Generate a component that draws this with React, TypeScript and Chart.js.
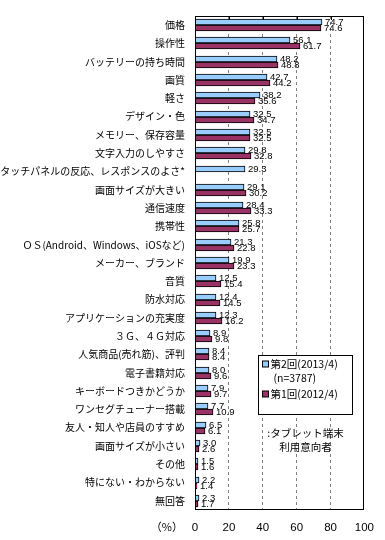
import React, { useEffect, useRef } from "react";
import { Chart, registerables } from "chart.js";

Chart.register(...registerables);

const categories = [
  "価格",
  "操作性",
  "バッテリーの持ち時間",
  "画質",
  "軽さ",
  "デザイン・色",
  "メモリー、保存容量",
  "文字入力のしやすさ",
  "タッチパネルの反応、レスポンスのよさ*",
  "画面サイズが大きい",
  "通信速度",
  "携帯性",
  "ＯＳ(Android、Windows、iOSなど)",
  "メーカー、ブランド",
  "音質",
  "防水対応",
  "アプリケーションの充実度",
  "３Ｇ、４Ｇ対応",
  "人気商品(売れ筋)、評判",
  "電子書籍対応",
  "キーボードつきかどうか",
  "ワンセグチューナー搭載",
  "友人・知人や店員のすすめ",
  "画面サイズが小さい",
  "その他",
  "特にない・わからない",
  "無回答",
];

const series2013 = [
  74.7, 56.1, 48.2, 42.7, 38.2, 32.5, 32.5, 29.8, 29.3, 29.1, 28.4, 25.8, 21.3, 19.9,
  12.5, 12.4, 12.3, 8.9, 8.4, 8.0, 7.9, 7.7, 6.5, 3.0, 1.5, 2.2, 2.3,
];

const series2012: (number | null)[] = [
  74.6, 61.7, 48.8, 44.2, 35.6, 34.7, 32.5, 32.8, null, 30.2, 33.3, 25.7, 22.8, 23.3,
  15.4, 14.5, 16.2, 9.8, 8.4, 9.6, 9.7, 10.9, 6.1, 2.6, 1.6, 1.4, 1.7,
];

const xTicks = [0, 20, 40, 60, 80, 100];
const seriesNames = ["第2回(2013/4)", "第1回(2012/4)"];
const sampleNote = "(n=3787)";
const noteLines = [":タブレット端末", "利用意向者"];
const unitLabel = "（%）";

const BLUE = "#99CCFF";
const MAROON = "#993366";
const CJK = '"Noto Sans CJK JP", "Noto Sans", sans-serif';
const NUM = '"Liberation Sans Narrow", "Liberation Sans", Arial, sans-serif';
const SANS = '"Liberation Sans", Arial, sans-serif';

const overlayPlugin = {
  id: "overlay",
  afterDatasetsUpdate(chart: any) {
    // snap bars to whole pixels for crisp edges
    chart.data.datasets.forEach((_ds: any, di: number) => {
      const meta = chart.getDatasetMeta(di);
      meta.data.forEach((el: any) => {
        el.y = Math.round(el.y);
        el.x = Math.round(el.x);
        el.base = Math.round(el.base);
      });
    });
  },
  afterDatasetsDraw(chart: any) {
    const ctx = chart.ctx;
    ctx.save();
    ctx.font = `9.5px ${NUM}`;
    ctx.fillStyle = "#000";
    ctx.textAlign = "left";
    ctx.textBaseline = "middle";
    chart.data.datasets.forEach((ds: any, di: number) => {
      const meta = chart.getDatasetMeta(di);
      meta.data.forEach((el: any, i: number) => {
        const v = ds.data[i];
        if (v === null || v === undefined) return;
        ctx.fillText(Number(v).toFixed(1), el.x + 3, el.y);
      });
    });
    ctx.restore();
  },
  afterDraw(chart: any) {
    const ctx = chart.ctx;
    const a = chart.chartArea;
    const xs = chart.scales.x;
    ctx.save();
    // frame
    ctx.strokeStyle = "#000";
    ctx.lineWidth = 1;
    ctx.setLineDash([]);
    ctx.strokeRect(Math.round(a.left) + 0.5, Math.round(a.top) + 0.5, Math.round(a.right - a.left) - 1, Math.round(a.bottom - a.top) - 1);
    // top tick marks
    xTicks.slice(1, -1).forEach((t) => {
      const px = Math.round(xs.getPixelForValue(t)) + 0.5;
      ctx.beginPath();
      ctx.moveTo(px, a.top);
      ctx.lineTo(px, a.top + 4);
      ctx.stroke();
    });
    // unit label
    ctx.font = `11px ${CJK}`;
    ctx.fillStyle = "#000";
    ctx.textAlign = "right";
    ctx.textBaseline = "middle";
    ctx.fillText(unitLabel, a.left - 12, a.bottom + 17);

    // legend box
    const bx = Math.round(xs.getPixelForValue(37.3)) + 0.5;
    const bx2 = Math.round(xs.getPixelForValue(92.6)) + 0.5;
    const by = 355.5;
    const by2 = 414.5;
    ctx.fillStyle = "#fff";
    ctx.fillRect(bx, by, bx2 - bx, by2 - by);
    ctx.strokeStyle = "#000";
    ctx.strokeRect(bx, by, bx2 - bx, by2 - by);

    ctx.font = `10.5px ${CJK}`;
    ctx.textAlign = "left";
    ctx.textBaseline = "middle";
    const rows = [
      { y: 364, color: BLUE, text: seriesNames[0], sq: true },
      { y: 378, color: null, text: sampleNote, sq: false },
      { y: 394, color: MAROON, text: seriesNames[1], sq: true },
    ];
    rows.forEach((r) => {
      if (r.sq && r.color) {
        ctx.fillStyle = r.color;
        ctx.fillRect(bx + 4, r.y - 3, 6, 6);
        ctx.strokeStyle = "#000";
        ctx.strokeRect(bx + 4, r.y - 3, 6, 6);
      }
      ctx.fillStyle = "#000";
      ctx.fillText(r.text, r.sq ? bx + 12 : bx + 15, r.y);
    });

    // note lines
    ctx.font = `10.5px ${CJK}`;
    ctx.textAlign = "center";
    ctx.fillStyle = "#000";
    const cx = (bx + bx2) / 2;
    ctx.fillText(noteLines[0], cx, 433);
    ctx.fillText(noteLines[1], cx, 447);
    ctx.restore();
  },
};

export default function App() {
  const ref = useRef<HTMLCanvasElement | null>(null);

  useEffect(() => {
    document.body.style.margin = "0";
    if (!ref.current) return;
    const chart = new Chart(ref.current, {
      type: "bar",
      data: {
        labels: categories,
        datasets: [
          {
            label: seriesNames[0],
            data: series2013,
            backgroundColor: BLUE,
            borderColor: "#000",
            borderWidth: 1,
            barThickness: 6,
          },
          {
            label: seriesNames[1],
            data: series2012,
            backgroundColor: MAROON,
            borderColor: "#000",
            borderWidth: 1,
            barThickness: 6,
          },
        ],
      },
      options: {
        indexAxis: "y",
        responsive: false,
        animation: false,
        devicePixelRatio: 1,
        layout: { padding: { top: 10, right: 15, left: 0, bottom: 0 } },
        plugins: {
          legend: { display: false },
          tooltip: { enabled: false },
        },
        scales: {
          x: {
            min: 0,
            max: 100,
            afterBuildTicks: (s: any) => {
              s.ticks = xTicks.map((v) => ({ value: v }));
            },
            afterFit: (s: any) => {
              s.height = 30;
            },
            ticks: {
              color: "#000",
              font: { size: 11.5, family: SANS },
              padding: 11,
            },
            grid: {
              drawTicks: false,
              color: (c: any) =>
                c.tick && (c.tick.value === 0 || c.tick.value === 100) ? "rgba(0,0,0,0)" : "#7f7f7f",
              lineWidth: 1,
            },
            border: { display: false, dash: [3, 3] },
          },
          y: {
            afterFit: (s: any) => {
              s.width = 195;
            },
            ticks: {
              color: "#000",
              font: { size: 10, family: CJK },
              padding: 10,
              autoSkip: false,
            },
            grid: { display: false, drawTicks: false },
            border: { display: false },
          },
        },
      },
      plugins: [overlayPlugin],
    } as any);
    return () => chart.destroy();
  }, []);

  return <canvas ref={ref} width={385} height={540} style={{ display: "block" }} />;
}
